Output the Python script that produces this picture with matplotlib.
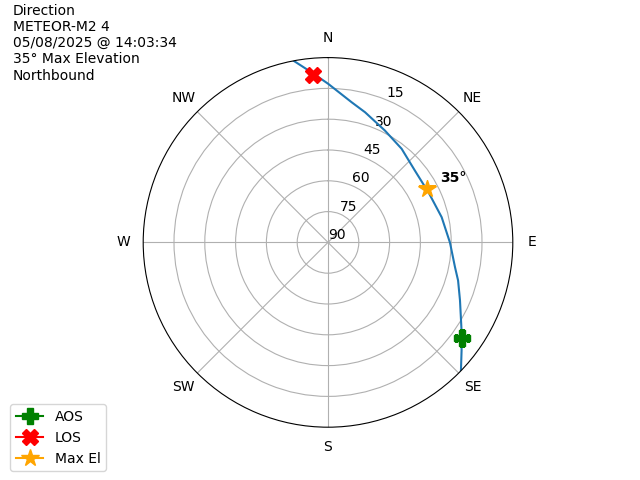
import numpy as np
import matplotlib.pyplot as plt

# pass track (azimuth deg, elevation deg)
track_az = [134.0, 128.9, 123.4, 113.7, 106.3, 101.0, 90.1, 77.5, 64.1, 50.4,
            38.2, 27.0, 15.9, 9.6, 0.1, -5.1, -10.7]
track_el = [0.0, 6.4, 12.1, 19.8, 24.0, 27.0, 30.6, 33.3, 35.3, 35.1,
            32.0, 28.9, 24.1, 20.8, 12.8, 7.3, 0.0]

aos_az, aos_el = 125.5, 10.1
los_az, los_el = 355.0, 8.4
max_az, max_el = 61.9, 35.2

compass = ['N', 'NE', 'E', 'SE', 'S', 'SW', 'W', 'NW']
compass_deg = [0, 45, 90, 135, 180, 225, 270, 315]
el_ticks = [15, 30, 45, 60, 75, 90]

info = ["Direction", "METEOR-M2 4", "05/08/2025 @ 14:03:34",
        "35° Max Elevation", "Northbound"]

fig = plt.figure(figsize=(6.4, 4.8), dpi=100)
ax = fig.add_subplot(111, projection='polar')
ax.set_theta_zero_location('N')
ax.set_theta_direction(-1)

ax.plot(np.radians(track_az), track_el, color='tab:blue')
ax.plot(np.radians(aos_az), aos_el, marker='P', color='green', markersize=12, label='AOS')
ax.plot(np.radians(los_az), los_el, marker='X', color='red', markersize=12, label='LOS')
ax.plot(np.radians(max_az), max_el, marker='*', color='orange', markersize=13, label='Max El')
ax.annotate(f"{max_el:.0f}°", (np.radians(max_az), max_el), xytext=(9, 3),
            textcoords='offset points', fontweight='bold', ha='left', va='bottom')

ax.set_ylim(90, 0)
ax.set_yticks(el_ticks)
ax.set_yticklabels([str(t) for t in el_ticks])
ax.set_thetagrids(compass_deg, compass)
ax.grid(True)

fig.text(0.02, 0.992, "\n".join(info), ha='left', va='top')
fig.legend(loc='lower left', bbox_to_anchor=(0.005, 0.004))

fig.savefig('out.png')
